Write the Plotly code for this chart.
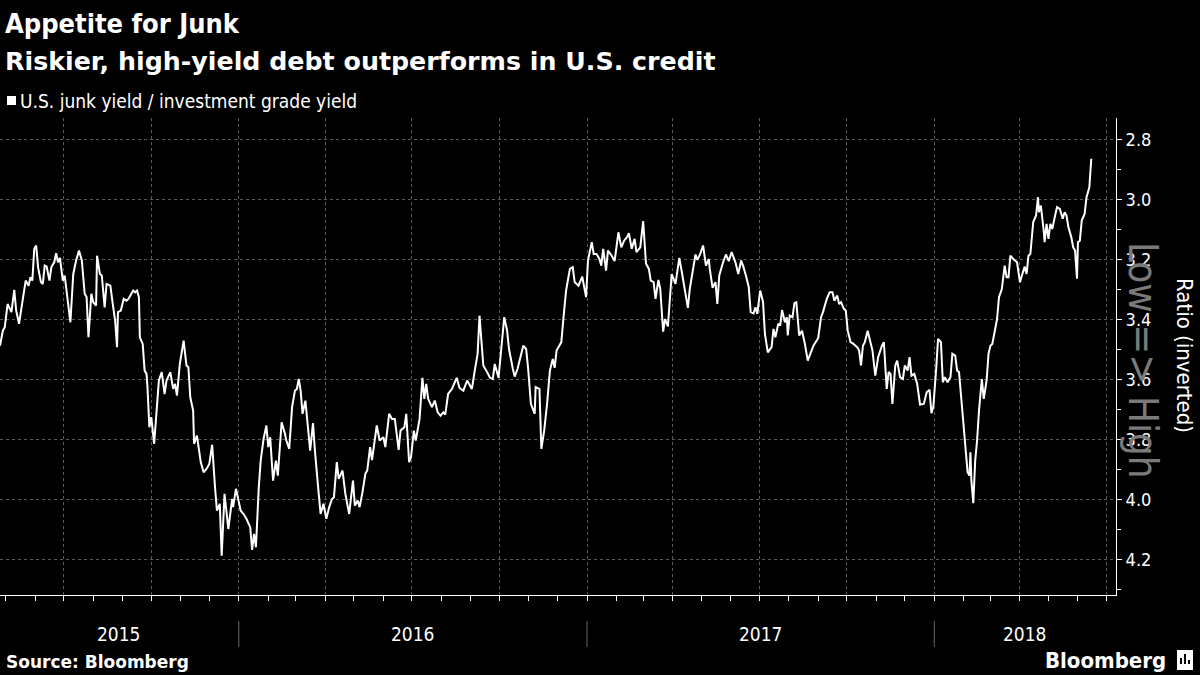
import pandas as pd
import plotly.graph_objects as go

TITLE = "Appetite for Junk"
SUBTITLE = "Riskier, high-yield debt outperforms in U.S. credit"
SERIES_NAME = "U.S. junk yield / investment grade yield"
SOURCE = "Source: Bloomberg"
BRAND = "Bloomberg"
Y_TITLE = "Ratio (inverted)"
Y_NOTE = "Low => High"
YEARS = [2015, 2016, 2017, 2018]
Y_TICKS = [2.8, 3.0, 3.2, 3.4, 3.6, 3.8, 4.0, 4.2]
X_RANGE = ["2015-04-25", "2018-07-11"]
Y_RANGE = [4.317, 2.727]

days_2015 = ["04-25", "04-28", "04-30", "05-03", "05-07", "05-10", "05-12", "05-15", "05-22", "05-25",
             "05-27", "05-29", "05-31", "06-02", "06-04", "06-07", "06-09", "06-11", "06-13", "06-16",
             "06-18", "06-21", "06-23", "06-25", "06-27", "06-30", "07-02", "07-08", "07-11", "07-14",
             "07-17", "07-20", "07-23", "07-25", "07-27", "07-30", "08-01", "08-04", "08-05", "08-08",
             "08-10", "08-13", "08-15", "08-19", "08-22", "08-24", "08-26", "08-27", "08-30", "09-02",
             "09-05", "09-07", "09-09", "09-12", "09-14", "09-16", "09-18", "09-19", "09-22", "09-24",
             "09-26", "09-27", "09-29", "10-01", "10-04", "10-07", "10-09", "10-12", "10-15", "10-17",
             "10-21", "10-24", "10-26", "10-28", "10-31", "11-04", "11-07", "11-09", "11-11", "11-14",
             "11-15", "11-18", "11-19", "11-22", "11-25", "11-28", "12-01", "12-04", "12-07", "12-09",
             "12-12", "12-14", "12-17", "12-21", "12-25", "12-26", "12-29", "12-31"]
ratio_2015 = [3.486, 3.436, 3.424, 3.347, 3.374, 3.300, 3.369, 3.413, 3.269, 3.286,
              3.258, 3.269, 3.163, 3.152, 3.224, 3.274, 3.280, 3.219, 3.222, 3.269,
              3.224, 3.208, 3.178, 3.208, 3.193, 3.269, 3.252, 3.408, 3.247, 3.202,
              3.169, 3.202, 3.313, 3.324, 3.458, 3.313, 3.341, 3.352, 3.186, 3.247,
              3.252, 3.358, 3.280, 3.286, 3.358, 3.402, 3.491, 3.374, 3.369, 3.330,
              3.336, 3.330, 3.319, 3.302, 3.308, 3.302, 3.324, 3.458, 3.480, 3.569,
              3.580, 3.624, 3.758, 3.724, 3.813, 3.702, 3.602, 3.574, 3.647, 3.602,
              3.574, 3.630, 3.613, 3.652, 3.547, 3.469, 3.552, 3.558, 3.658, 3.702,
              3.813, 3.786, 3.813, 3.874, 3.908, 3.897, 3.880, 3.816, 3.958, 4.036,
              4.013, 4.186, 3.980, 4.097, 3.997, 4.024, 3.963, 3.991]

days_2016 = ["01-03", "01-06", "01-09", "01-13", "01-15", "01-17", "01-19", "01-22", "01-24", "01-27",
             "01-30", "02-01", "02-03", "02-06", "02-09", "02-11", "02-13", "02-15", "02-18", "02-20",
             "02-23", "02-26", "02-29", "03-02", "03-04", "03-06", "03-08", "03-11", "03-13", "03-16",
             "03-19", "03-21", "03-25", "03-27", "03-30", "04-02", "04-05", "04-08", "04-10", "04-13",
             "04-15", "04-19", "04-22", "04-26", "04-30", "05-02", "05-05", "05-07", "05-10", "05-13",
             "05-15", "05-18", "05-20", "05-25", "05-28", "06-01", "06-03", "06-07", "06-10", "06-13",
             "06-17", "06-19", "06-23", "06-25", "06-28", "06-30", "07-03", "07-05", "07-09", "07-12",
             "07-14", "07-16", "07-18", "07-22", "07-25", "07-28", "07-31", "08-03", "08-05", "08-08",
             "08-12", "08-14", "08-17", "08-20", "08-24", "08-28", "09-02", "09-05", "09-08", "09-10",
             "09-12", "09-14", "09-18", "09-21", "09-24", "09-26", "09-30", "10-03", "10-06", "10-09",
             "10-11", "10-15", "10-17", "10-20", "10-23", "10-26", "10-29", "10-31", "11-03", "11-07",
             "11-08", "11-12", "11-14", "11-17", "11-20", "11-23", "11-26", "11-28", "11-30", "12-05",
             "12-07", "12-10", "12-14", "12-17", "12-19", "12-23", "12-27", "12-31"]
ratio_2016 = [4.036, 4.047, 4.063, 4.091, 4.167, 4.113, 4.158, 3.958, 3.869, 3.797,
              3.752, 3.824, 3.791, 3.936, 3.869, 3.919, 3.813, 3.741, 3.774, 3.802,
              3.830, 3.691, 3.636, 3.630, 3.597, 3.636, 3.713, 3.669, 3.736, 3.836,
              3.744, 3.836, 3.980, 4.047, 4.013, 4.063, 4.024, 3.997, 3.991, 3.874,
              3.930, 3.902, 3.980, 4.047, 3.936, 4.019, 4.002, 4.024, 3.974, 3.913,
              3.902, 3.824, 3.867, 3.752, 3.802, 3.791, 3.824, 3.713, 3.730, 3.730,
              3.833, 3.769, 3.758, 3.713, 3.874, 3.858, 3.769, 3.802, 3.730, 3.593,
              3.663, 3.613, 3.663, 3.691, 3.669, 3.708, 3.719, 3.708, 3.716, 3.647,
              3.630, 3.613, 3.593, 3.627, 3.636, 3.602, 3.630, 3.569, 3.513, 3.386,
              3.480, 3.552, 3.574, 3.593, 3.597, 3.547, 3.593, 3.486, 3.391, 3.436,
              3.497, 3.563, 3.589, 3.563, 3.519, 3.486, 3.497, 3.558, 3.680, 3.713,
              3.624, 3.630, 3.830, 3.769, 3.680, 3.569, 3.530, 3.560, 3.502, 3.474,
              3.402, 3.302, 3.230, 3.224, 3.274, 3.286, 3.256, 3.324]

days_2017 = ["01-02", "01-06", "01-08", "01-11", "01-14", "01-16", "01-18", "01-21", "01-23", "01-27",
             "01-30", "02-03", "02-06", "02-09", "02-12", "02-14", "02-17", "02-20", "02-22", "02-26",
             "03-01", "03-04", "03-07", "03-09", "03-12", "03-14", "03-17", "03-19", "03-22", "03-24",
             "03-27", "03-29", "03-31", "04-04", "04-06", "04-08", "04-11", "04-13", "04-17", "04-19",
             "04-22", "04-25", "04-27", "04-30", "05-03", "05-06", "05-09", "05-10", "05-13", "05-16",
             "05-18", "05-20", "05-24", "05-27", "05-30", "06-02", "06-06", "06-09", "06-12", "06-14",
             "06-17", "06-20", "06-22", "06-25", "06-27", "06-29", "07-02", "07-05", "07-07", "07-10",
             "07-14", "07-16", "07-18", "07-21", "07-23", "07-25", "07-28", "07-30", "07-31", "08-02",
             "08-05", "08-07", "08-09", "08-12", "08-15", "08-18", "08-21", "08-24", "08-27", "09-01",
             "09-04", "09-06", "09-10", "09-13", "09-16", "09-18", "09-21", "09-23", "09-25", "09-28",
             "09-30", "10-02", "10-05", "10-08", "10-12", "10-14", "10-16", "10-18", "10-20", "10-23",
             "10-26", "10-28", "10-31", "11-03", "11-07", "11-09", "11-12", "11-14", "11-16", "11-18",
             "11-21", "11-23", "11-26", "11-29", "12-01", "12-04", "12-06", "12-08", "12-11", "12-14",
             "12-17", "12-21", "12-24", "12-27", "12-29", "12-31"]
ratio_2017 = [3.202, 3.141, 3.180, 3.180, 3.197, 3.219, 3.163, 3.236, 3.169, 3.186,
              3.204, 3.108, 3.158, 3.136, 3.124, 3.111, 3.163, 3.130, 3.174, 3.158,
              3.071, 3.213, 3.230, 3.269, 3.274, 3.330, 3.267, 3.297, 3.439, 3.397,
              3.422, 3.341, 3.247, 3.280, 3.236, 3.193, 3.247, 3.286, 3.360, 3.297,
              3.236, 3.182, 3.200, 3.180, 3.152, 3.219, 3.197, 3.230, 3.293, 3.274,
              3.347, 3.252, 3.208, 3.182, 3.204, 3.174, 3.208, 3.247, 3.202, 3.219,
              3.252, 3.291, 3.374, 3.378, 3.358, 3.380, 3.302, 3.340, 3.447, 3.508,
              3.491, 3.430, 3.458, 3.413, 3.419, 3.367, 3.408, 3.391, 3.452, 3.386,
              3.391, 3.344, 3.341, 3.452, 3.436, 3.480, 3.536, 3.508, 3.486, 3.460,
              3.391, 3.374, 3.330, 3.308, 3.308, 3.336, 3.319, 3.347, 3.341, 3.363,
              3.369, 3.436, 3.474, 3.480, 3.491, 3.502, 3.552, 3.486, 3.474, 3.436,
              3.480, 3.502, 3.586, 3.524, 3.486, 3.474, 3.630, 3.574, 3.580, 3.680,
              3.552, 3.536, 3.591, 3.597, 3.552, 3.569, 3.524, 3.586, 3.580, 3.613,
              3.682, 3.680, 3.641, 3.633, 3.711, 3.690]

days_2018 = ["01-03", "01-05", "01-08", "01-10", "01-12", "01-15", "01-18", "01-20", "01-23", "01-25",
             "01-27", "01-31", "02-05", "02-07", "02-08", "02-09", "02-11", "02-13", "02-15", "02-17",
             "02-20", "02-22", "02-25", "02-27", "03-01", "03-03", "03-06", "03-08", "03-10", "03-13",
             "03-16", "03-18", "03-20", "03-22", "03-25", "03-29", "04-01", "04-04", "04-06", "04-08",
             "04-10", "04-12", "04-15", "04-18", "04-20", "04-21", "04-23", "04-26", "04-27", "04-29",
             "05-01", "05-03", "05-05", "05-08", "05-10", "05-13", "05-16", "05-18", "05-20", "05-22",
             "05-25", "05-27", "05-29", "05-31", "06-01", "06-03", "06-05", "06-08", "06-10", "06-13",
             "06-14", "06-15"]
ratio_2018 = [3.563, 3.463, 3.474, 3.608, 3.591, 3.608, 3.591, 3.513, 3.519, 3.569,
              3.574, 3.736, 3.908, 3.919, 3.841, 3.936, 4.011, 3.869, 3.802, 3.702,
              3.597, 3.663, 3.602, 3.513, 3.486, 3.480, 3.424, 3.397, 3.324, 3.297,
              3.219, 3.258, 3.258, 3.186, 3.197, 3.208, 3.274, 3.241, 3.222, 3.247,
              3.186, 3.180, 3.074, 3.052, 2.991, 3.041, 3.019, 3.102, 3.141, 3.080,
              3.130, 3.080, 3.097, 3.052, 3.024, 3.030, 3.063, 3.041, 3.052, 3.091,
              3.124, 3.158, 3.169, 3.263, 3.141, 3.136, 3.069, 3.047, 2.991, 2.958,
              2.913, 2.863]

# ---- assemble series ----
all_days = {2015: days_2015, 2016: days_2016, 2017: days_2017, 2018: days_2018}
all_ratio = {2015: ratio_2015, 2016: ratio_2016, 2017: ratio_2017, 2018: ratio_2018}
dates, values = [], []
for yr in YEARS:
    dates += [f"{yr}-{d}" for d in all_days[yr]]
    values += all_ratio[yr]

# ---- geometry helpers (pixels -> paper) ----
W, H = 1200, 675
M_L, M_R, M_T, M_B = 0, 84, 118, 80
PW, PH = W - M_L - M_R, H - M_T - M_B


def px(x):
    return (x - M_L) / PW


def py(y):
    return (H - M_B - y) / PH


NARROW = "Liberation Sans Narrow, DejaVu Sans Condensed, Arial Narrow, sans-serif"
COND = "DejaVu Sans Condensed, DejaVu Sans, sans-serif"
WIDEBOLD = "DejaVu Sans, Verdana, sans-serif"
GRID = "#5a5a5a"

fig = go.Figure()
fig.add_trace(go.Scatter(x=dates, y=values, mode="lines", name=SERIES_NAME,
                         line=dict(color="white", width=2), hoverinfo="skip",
                         showlegend=False))

fig.update_layout(
    width=W, height=H,
    paper_bgcolor="black", plot_bgcolor="black",
    margin=dict(l=M_L, r=M_R, t=M_T, b=M_B, autoexpand=False),
    font=dict(family=NARROW, color="white", size=17),
    showlegend=False,
)

fig.update_xaxes(
    type="date", range=X_RANGE, automargin=False,
    showline=True, linecolor="white", linewidth=1,
    showgrid=True, gridcolor=GRID, griddash="dot", gridwidth=1,
    tick0="2015-01-01", dtick="M3",
    ticks="outside", ticklen=5, tickcolor="white", showticklabels=False,
    minor=dict(dtick="M1", tick0="2015-01-01", ticks="outside", ticklen=5,
               tickcolor="white", showgrid=False),
    zeroline=False,
)

fig.update_yaxes(
    range=Y_RANGE, side="right", automargin=False,
    showline=True, linecolor="white", linewidth=1,
    showgrid=True, gridcolor=GRID, griddash="dot", gridwidth=1,
    tickmode="array", tickvals=Y_TICKS, ticktext=[f"{v:.1f}" for v in Y_TICKS],
    ticks="outside", ticklen=5, tickcolor="white",
    tickfont=dict(family=NARROW, size=18, color="white"),
    minor=dict(tickmode="linear", tick0=2.7, dtick=0.1, ticks="outside", ticklen=4,
               tickcolor="white", showgrid=False),
    zeroline=False,
)

ann = []
ann.append(dict(text=f"<b>{TITLE}</b>", x=px(3), y=py(24), xref="paper", yref="paper",
                xanchor="left", yanchor="middle", showarrow=False,
                font=dict(family=COND, size=27, color="white")))
ann.append(dict(text=f"<b>{SUBTITLE}</b>", x=px(3), y=py(61), xref="paper", yref="paper",
                xanchor="left", yanchor="middle", showarrow=False,
                font=dict(family=WIDEBOLD, size=25.3, color="white")))
ann.append(dict(text=SERIES_NAME, x=px(18), y=py(101), xref="paper", yref="paper",
                xanchor="left", yanchor="middle", showarrow=False,
                font=dict(family=NARROW, size=19, color="white")))
ann.append(dict(text=f"<b>{SOURCE}</b>", x=px(4), y=py(662), xref="paper", yref="paper",
                xanchor="left", yanchor="middle", showarrow=False,
                font=dict(family=WIDEBOLD, size=17, color="white")))
ann.append(dict(text=f"<b>{BRAND}</b>", x=px(1168), y=py(660), xref="paper", yref="paper",
                xanchor="right", yanchor="middle", showarrow=False,
                font=dict(family=NARROW, size=22, color="white")))
ann.append(dict(text=Y_TITLE, x=px(1185), y=py(355), xref="paper", yref="paper",
                xanchor="center", yanchor="middle", showarrow=False, textangle=90,
                font=dict(family=NARROW, size=22, color="white")))
ann.append(dict(text=Y_NOTE, x=px(1143), y=py(360), xref="paper", yref="paper",
                xanchor="center", yanchor="middle", showarrow=False, textangle=90,
                font=dict(family=NARROW, size=40, color="#7a7a7a")))

# year labels centred in the visible part of each year
x0, x1 = pd.Timestamp(X_RANGE[0]), pd.Timestamp(X_RANGE[1])
shapes = []
for yr in YEARS:
    a = max(x0, pd.Timestamp(f"{yr}-01-01"))
    b = min(x1, pd.Timestamp(f"{yr + 1}-01-01"))
    mid = a + (b - a) / 2
    ann.append(dict(text=str(yr), x=mid, y=py(634), xref="x", yref="paper",
                    xanchor="center", yanchor="middle", showarrow=False,
                    font=dict(family=NARROW, size=19, color="white")))
    if pd.Timestamp(f"{yr}-01-01") > x0:
        shapes.append(dict(type="line", xref="x", yref="paper",
                           x0=f"{yr}-01-01", x1=f"{yr}-01-01", y0=py(621), y1=py(647),
                           line=dict(color="#666666", width=1)))

# legend swatch
shapes.append(dict(type="rect", xref="paper", yref="paper",
                   x0=px(7), x1=px(16), y0=py(105), y1=py(96),
                   fillcolor="white", line=dict(width=0)))
# brand icon
shapes.append(dict(type="rect", xref="paper", yref="paper",
                   x0=px(1177), x1=px(1193), y0=py(670), y1=py(650),
                   fillcolor="white", line=dict(width=0)))
for i, (h0, h1) in enumerate([(664, 658), (664, 654), (664, 660)]):
    shapes.append(dict(type="rect", xref="paper", yref="paper",
                       x0=px(1180 + 4 * i), x1=px(1182 + 4 * i), y0=py(h0), y1=py(h1),
                       fillcolor="black", line=dict(width=0)))

fig.update_layout(annotations=ann, shapes=shapes)
fig.write_html("out.html",
               config={"displayModeBar": False, "staticPlot": True},
               post_script="document.body.style.margin='0';document.body.style.padding='0';"
                           "document.body.style.background='black';")
